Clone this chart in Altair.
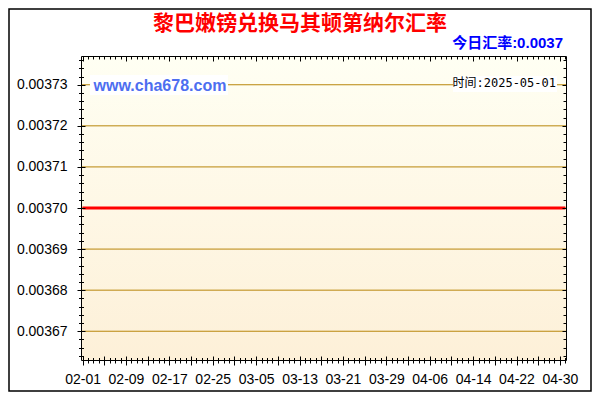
import altair as alt
import pandas as pd

# ---- data ----
DATES = ["2025-02-01T00:00:00", "2025-05-01T00:00:00"]
RATES = [0.00370, 0.00370]
Y_LABELS = [0.00367, 0.00368, 0.00369, 0.00370, 0.00371, 0.00372, 0.00373]
TITLE = "黎巴嫩镑兑换马其顿第纳尔汇率"
SUBTITLE = "今日汇率:0.0037"
WATERMARK = "www.cha678.com"
TIME_LABEL = "时间:2025-05-01"

W, H = 485, 304
Y_DOMAIN = [0.003663, 0.003737]
Y_MINOR = [round(0.003664 + i * 0.000002, 6) for i in range(37)]
X_DOMAIN = [alt.DateTime(year=2025, month=1, date=31, hours=17),
            alt.DateTime(year=2025, month=5, date=1, hours=3)]
DAY = {"interval": "day", "step": 1}

line_df = pd.DataFrame({"date": DATES, "rate": RATES})
grid_df = pd.DataFrame({"v": Y_LABELS})
one = pd.DataFrame({"k": [0]})

DAY4 = "(dayofyear(datum.value) - 32) % 4 == 0"
DAY8 = "(dayofyear(datum.value) - 32) % 8 == 0"
MAJY = "abs(datum.value * 100000 - round(datum.value * 100000)) < 0.01"
LABEL_FONT = "Liberation Sans"


def xs():
    return alt.Scale(domain=X_DOMAIN, nice=False)


def ys():
    return alt.Scale(domain=Y_DOMAIN, nice=False, zero=False)


ax_bottom = alt.Axis(orient="bottom", tickCount=DAY, grid=False,
                     domainColor="black", domainWidth=1, tickColor="black", tickWidth=1,
                     tickSize={"condition": {"test": DAY4, "value": 5}, "value": 3},
                     labelExpr=DAY8 + " ? timeFormat(datum.value, '%m-%d') : ''",
                     labelOverlap=False, labelFlush=False, labelFont=LABEL_FONT,
                     labelFontSize=14, labelColor="black", labelPadding=7,
                     title=None, zindex=1)
ax_bottom_in = alt.Axis(orient="top", offset=-H, tickCount=DAY, grid=False,
                        domain=False, labels=False, tickColor="black", tickWidth=1,
                        tickSize={"condition": {"test": DAY4, "value": 4}, "value": 2.5},
                        title=None, zindex=1)
ax_top = alt.Axis(orient="bottom", offset=-H, tickCount=DAY, grid=False,
                  domainColor="black", domainWidth=1, labels=False,
                  tickColor="black", tickWidth=1,
                  tickSize={"condition": {"test": DAY8, "value": 5}, "value": 3},
                  title=None, zindex=1)

ax_left = alt.Axis(orient="left", values=Y_MINOR, grid=False,
                   domainColor="black", domainWidth=1, tickColor="black", tickWidth=1,
                   tickSize={"condition": {"test": MAJY, "value": 4}, "value": 2.5},
                   labelExpr=MAJY + " ? format(datum.value, '.5f') : ''",
                   labelOverlap=False, labelFlush=False, labelFont=LABEL_FONT,
                   labelFontSize=14, labelColor="black", labelPadding=10,
                   title=None, zindex=1)
ax_left_in = alt.Axis(orient="right", offset=-W, values=Y_MINOR, grid=False,
                      domain=False, labels=False, tickColor="black", tickWidth=1,
                      tickSize={"condition": {"test": MAJY, "value": 4}, "value": 2.5},
                      title=None, zindex=1)
ax_right = alt.Axis(orient="left", offset=-W, values=Y_MINOR, grid=False,
                    domainColor="black", domainWidth=1, labels=False,
                    tickColor="black", tickWidth=1,
                    tickSize={"condition": {"test": MAJY, "value": 4}, "value": 3},
                    title=None, zindex=1)

bg = alt.Chart(one).mark_rect(
    fill=alt.LinearGradient(gradient="linear",
                            stops=[alt.GradientStop(color="#FFFFF3", offset=0),
                                   alt.GradientStop(color="#FDF0D8", offset=1)],
                            x1=0, x2=0, y1=0, y2=1)
).encode(x=alt.value(0), x2=alt.value(W), y=alt.value(0), y2=alt.value(H))

grid = alt.Chart(grid_df).mark_rule(color="#B8860B", strokeWidth=1).encode(
    y=alt.Y("v:Q", scale=ys(), axis=ax_left)
)

line = alt.Chart(line_df).mark_line(color="#FF0000", strokeWidth=3).encode(
    x=alt.X("date:T", scale=xs(), axis=ax_bottom),
    y=alt.Y("rate:Q", scale=ys(), axis=ax_left_in),
)

hid1 = alt.Chart(line_df).mark_line(strokeOpacity=0).encode(
    x=alt.X("date:T", scale=xs(), axis=ax_bottom_in),
    y=alt.Y("rate:Q", scale=ys(), axis=ax_right),
)

hid2 = alt.Chart(line_df).mark_line(strokeOpacity=0).encode(
    x=alt.X("date:T", scale=xs(), axis=ax_top),
    y=alt.Y("rate:Q", scale=ys(), axis=None),
)

title = alt.Chart(one).mark_text(
    text=TITLE, font="Noto Sans CJK SC", fontSize=21, fontWeight="bold",
    color="#FF0000", align="center", baseline="middle"
).encode(x=alt.value(219), y=alt.value(-32))

subtitle = alt.Chart(one).mark_text(
    text=SUBTITLE, font="Liberation Sans, Noto Sans CJK SC", fontSize=15,
    fontWeight="bold", color="#0000FF", align="right", baseline="middle"
).encode(x=alt.value(482), y=alt.value(-13))

wm_box = alt.Chart(one).mark_rect(fill="white").encode(
    x=alt.value(9), x2=alt.value(147), y=alt.value(19), y2=alt.value(39))
wm_text = alt.Chart(one).mark_text(
    text=WATERMARK, font="Liberation Sans", fontSize=16, fontWeight="bold",
    color="#4D6EF0", align="center", baseline="middle"
).encode(x=alt.value(79), y=alt.value(29.5))

time_box = alt.Chart(one).mark_rect(fill="white").encode(
    x=alt.value(372), x2=alt.value(476), y=alt.value(20), y2=alt.value(36))
time_text = alt.Chart(one).mark_text(
    text=TIME_LABEL, font="DejaVu Sans Mono, Noto Sans CJK SC", fontSize=12,
    color="black", align="right", baseline="middle"
).encode(x=alt.value(475), y=alt.value(27))

frame = alt.Chart(one).mark_rect(fillOpacity=0, stroke="black", strokeWidth=1.5).encode(
    x=alt.value(-72), x2=alt.value(510), y=alt.value(-47), y2=alt.value(335))

chart = alt.layer(
    bg, grid, line, hid1, hid2, title, subtitle, wm_box, wm_text, time_box, time_text, frame
).resolve_axis(x="independent", y="independent").properties(
    width=W, height=H,
    autosize=alt.AutoSizeParams(type="none"),
    padding={"left": 73, "top": 48, "right": 26, "bottom": 32},
).configure_view(strokeWidth=0)

chart.save("out.html", embed_options={"renderer": "svg", "actions": False})
